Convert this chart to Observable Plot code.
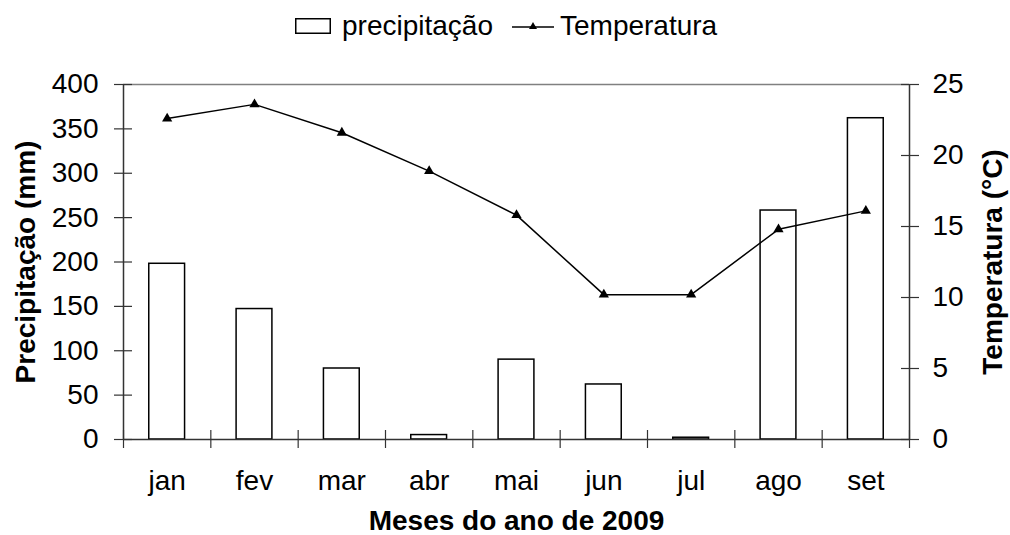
<!DOCTYPE html>
<html>
<head>
<meta charset="utf-8">
<script src="https://cdn.jsdelivr.net/npm/d3@7"></script>
<script src="https://cdn.jsdelivr.net/npm/@observablehq/plot@0.6"></script>
<style>
  html, body { margin: 0; padding: 0; background: #fff; }
  body { width: 1010px; height: 535px; overflow: hidden; font-family: "Liberation Sans", Arial, sans-serif; }
  #legend { position: relative; height: 50px; width: 1010px; font-size: 28px; color: #000; }
  #legend .item { position: absolute; top: 10px; line-height: 32px; display: flex; align-items: center; white-space: nowrap; }
  #legend svg { display: block; }
</style>
</head>
<body>
<div id="legend"></div>
<div id="chart"></div>
<script>
// ---- data ----
const months = ["jan", "fev", "mar", "abr", "mai", "jun", "jul", "ago", "set"];
const precipitation = [198, 147, 80, 5, 90, 62, 2, 258, 362];   // mm
const temperature = [22.6, 23.6, 21.6, 18.9, 15.8, 10.2, 10.2, 14.8, 16.1]; // °C
const precTicks = [0, 50, 100, 150, 200, 250, 300, 350, 400];
const tempTicks = [0, 5, 10, 15, 20, 25];
const seriesNames = ["precipitação", "Temperatura"];
const xTitle = "Meses do ano de 2009";
const yTitleLeft = "Precipitação (mm)";
const yTitleRight = "Temperatura (°C)";

const precMax = 400, tempMax = 25;
const k = precMax / tempMax; // map temperature onto precipitation scale

const rows = months.map((m, i) => ({i, month: m, prec: precipitation[i], temp: temperature[i]}));
const boundaries = d3.range(0, months.length + 1);
const centers = months.map((m, i) => i + 0.5);

// ---- legend ----
const legend = document.getElementById("legend");
legend.innerHTML = `
  <div class="item" style="left:295px">
    <svg width="36" height="16"><rect x="0.75" y="0.75" width="34.5" height="14.5" fill="#fff" stroke="#000" stroke-width="1.5"/></svg>
    <span style="margin-left:11px">${seriesNames[0]}</span>
  </div>
  <div class="item" style="left:512px">
    <svg width="42" height="16"><line x1="0" y1="9" x2="42" y2="9" stroke="#000" stroke-width="1.5"/><path d="M21,4 L25,11 L17,11 Z" fill="#000"/></svg>
    <span style="margin-left:6px">${seriesNames[1]}</span>
  </div>`;

// ---- chart ----
const font = {fontFamily: "'Liberation Sans', Arial, sans-serif", fontSize: "28px", color: "#000"};
const chart = Plot.plot({
  width: 1010,
  height: 485,
  marginTop: 34,
  marginBottom: 96,
  marginLeft: 123,
  marginRight: 101,
  style: {...font, background: "#fff", overflow: "visible"},
  x: {type: "linear", domain: [0, months.length]},
  y: {domain: [0, precMax]},
  marks: [
    // top border
    Plot.ruleY([precMax], {stroke: "#808080", strokeWidth: 1.5}),
    // bars
    Plot.rectY(rows, {x1: d => d.i + 0.295, x2: d => d.i + 0.705, y1: 0, y2: "prec", fill: "#fff", stroke: "#000", strokeWidth: 1.5}),
    // axes lines
    Plot.ruleY([0], {stroke: "#333", strokeWidth: 1.5}),
    Plot.ruleX([0], {stroke: "#333", strokeWidth: 1.5}),
    Plot.ruleX([months.length], {stroke: "#333", strokeWidth: 1.5}),
    // crossing ticks
    Plot.axisX({ticks: boundaries, tickSize: 18, dy: -9, fill: "none", stroke: "#333", strokeWidth: 1.2, label: null}),
    Plot.axisY({anchor: "left", ticks: precTicks, tickSize: 18, dx: 9, fill: "none", stroke: "#333", strokeWidth: 1.2, label: null}),
    Plot.axisY({anchor: "right", ticks: tempTicks.map(t => t * k), tickSize: 18, dx: -9, fill: "none", stroke: "#333", strokeWidth: 1.2, label: null}),
    // tick labels
    Plot.axisX({ticks: centers, tickSize: 0, tickPadding: 31, tickFormat: v => months[Math.floor(v)], label: null, fill: "#000"}),
    Plot.axisY({anchor: "left", ticks: precTicks, tickSize: 0, tickPadding: 25, tickFormat: d => String(d), label: null, fill: "#000"}),
    Plot.axisY({anchor: "right", ticks: tempTicks.map(t => t * k), tickSize: 0, tickPadding: 23, tickFormat: v => String(Math.round(v / k)), label: null, fill: "#000"}),
    // temperature line + markers
    Plot.line(rows, {x: d => d.i + 0.5, y: d => d.temp * k, stroke: "#000", strokeWidth: 1.5}),
    Plot.dot(rows, {x: d => d.i + 0.5, y: d => d.temp * k, symbol: "triangle", r: 3.8, fill: "#000", stroke: "none"}),
    // axis titles
    Plot.text([xTitle], {frameAnchor: "bottom", dy: 82, text: d => d, fontWeight: "bold", textAnchor: "middle", lineAnchor: "middle", fill: "#000"}),
    Plot.text([yTitleLeft], {frameAnchor: "left", dx: -97, rotate: -90, text: d => d, fontWeight: "bold", textAnchor: "middle", lineAnchor: "middle", fill: "#000"}),
    Plot.text([yTitleRight], {frameAnchor: "right", dx: 84, rotate: -90, text: d => d, fontWeight: "bold", textAnchor: "middle", lineAnchor: "middle", fill: "#000"})
  ]
});
document.getElementById("chart").appendChild(chart);
</script>
</body>
</html>
